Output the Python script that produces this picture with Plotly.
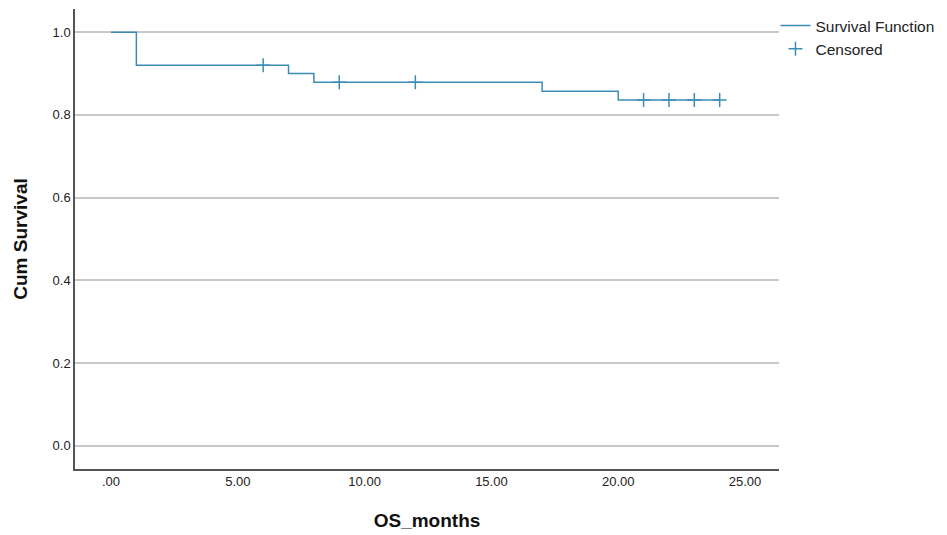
import plotly.graph_objects as go

# Survival step function (time, cumulative survival)
step_times = [0, 1, 7, 8, 17, 20, 24]
step_surv = [1.0, 0.92, 0.90, 0.879, 0.857, 0.836, 0.836]

# Censored observations
cens_times = [6, 9, 12, 21, 22, 23, 24]
cens_surv = [0.92, 0.879, 0.879, 0.836, 0.836, 0.836, 0.836]

x_tickvals = [0, 5, 10, 15, 20, 25]
x_ticktext = [".00", "5.00", "10.00", "15.00", "20.00", "25.00"]
y_tickvals = [0.0, 0.2, 0.4, 0.6, 0.8, 1.0]
y_ticktext = ["0.0", "0.2", "0.4", "0.6", "0.8", "1.0"]

color = "#3b8db5"
font = "Liberation Sans, Arial, sans-serif"

fig = go.Figure()
fig.add_trace(go.Scatter(
    x=step_times, y=step_surv, mode="lines", line_shape="hv",
    line=dict(color=color, width=1.5), name="Survival Function"))
fig.add_trace(go.Scatter(
    x=cens_times, y=cens_surv, mode="markers",
    marker=dict(symbol="cross-thin", size=10, line=dict(color=color, width=1.5), color=color),
    name="Censored"))

fig.update_layout(
    width=947, height=535,
    margin=dict(l=67, r=176, t=1, b=74),
    paper_bgcolor="white", plot_bgcolor="white",
    font=dict(family=font, size=12, color="#222"),
    legend=dict(x=0.995, y=1.0, xanchor="left", yanchor="top",
                font=dict(size=15.5, color="#222"), tracegroupgap=0,
                itemwidth=30, bgcolor="rgba(0,0,0,0)"),
    xaxis=dict(range=[-1.42, 26.34], tickvals=x_tickvals, ticktext=x_ticktext,
               showgrid=False, showline=True, linecolor="#555", linewidth=1.5,
               zeroline=False, ticks="", ticklen=0,
               title=dict(text="<b>OS_months</b>", font=dict(size=19, color="#111"), standoff=25),
               tickfont=dict(size=13, color="#222")),
    yaxis=dict(range=[-0.056, 1.056], tickvals=y_tickvals, ticktext=y_ticktext,
               showgrid=True, gridcolor="#c8c8c8", gridwidth=1.5,
               showline=True, linecolor="#555", linewidth=1.5,
               zeroline=False, ticks="", ticklen=0,
               title=dict(text="<b>Cum Survival</b>", font=dict(size=19, color="#111"), standoff=20),
               tickfont=dict(size=13, color="#222")),
)

fig.write_html("out.html")
